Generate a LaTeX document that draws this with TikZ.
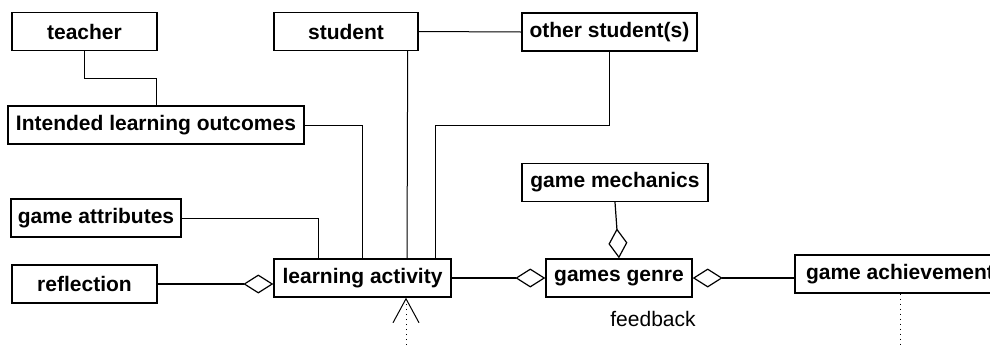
\documentclass[tikz,border=0pt]{standalone}
\usepackage{fontspec}
\setmainfont{Liberation Sans}
\usetikzlibrary{calc,arrows.meta}

\tikzset{
  boite/.style={draw, line width=0.7pt, inner sep=0pt, minimum height=19pt,
    font=\bfseries\fontsize{10.5}{12}\selectfont},
  lien/.style={line width=0.5pt},
  agreg/.style={line width=0.6pt, -{Diamond[open,length=15pt,width=9.5pt]}},
}

\begin{document}
\begin{tikzpicture}[x=0.5pt,y=0.5pt,>={Straight Barb[length=12pt,width=13pt]}]

    \clip (0,0) rectangle (990,345);

    % Les boites
    \node[boite,minimum width=72.5pt] (teacher) at (84.5,313.5) {teacher};
    \node[boite,minimum width=72pt] (student) at (346,313.5) {student};
    \node[boite,minimum width=87.5pt] (other) at (609.5,313) {other student(s)};
    \node[boite,minimum width=148pt] (ilo) at (156,220) {Intended learning outcomes};
    \node[boite,minimum width=85pt] (attributs) at (96,127) {game attributes};
    \node[boite,minimum width=72.5pt] (reflexion) at (84.5,61) {reflection};
    \node[boite,minimum width=88.5pt] (activite) at (362.5,67) {learning activity};
    \node[boite,minimum width=93pt] (mecanique) at (615,162.5) {game mechanics};
    \node[boite,minimum width=73pt] (genre) at (619,67) {games genre};
    \node[boite,minimum width=105pt] (succes) at (900,71) {game achievement};
    \node[font=\fontsize{10.5}{12}\selectfont] (feedback) at (653,26) {feedback};

    % Les liens vers l'activite
    \draw[lien] (teacher.south) -- ++(0,-27) -| (ilo.north);
    \draw[lien] (ilo.east) -| (activite.north);
    \draw[lien] (attributs.east) -| ($(activite.north)+(-44.5,0)$);
    \draw[lien] ($(student.south east)+(-11,0)$) -- ($(activite.north)+(44.5,0)$);
    \draw[lien] (student.east) -- (other.west);
    \coordinate (coude) at ($(activite.north)+(72.5,133)$);
    \draw[lien] (other.south) |- (coude) -- (coude |- activite.north);

    % Les agregations (losanges)
    \draw[agreg] (reflexion.east) -- (reflexion.east -| activite.west);
    \draw[agreg] (activite.east) -- (genre.west);
    \draw[agreg] (mecanique.south) -- (genre.north);
    \draw[agreg] (succes.west |- genre.east) -- (genre.east);

    % Les pointilles
    \coordinate (bas1) at (406,0);
    \coordinate (bas2) at (900,0);
    \draw[lien,dotted,->] (bas1) -- (bas1 |- activite.south);
    \draw[lien,dotted] (succes.south) -- (bas2);

\end{tikzpicture}
\end{document}
